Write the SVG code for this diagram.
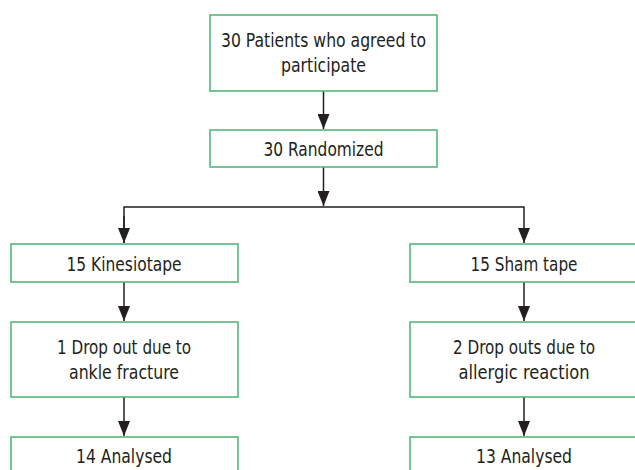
<svg xmlns="http://www.w3.org/2000/svg" width="635" height="470" viewBox="0 0 635 470">
<defs>
<style>
.box{fill:#fff;stroke:#47b275;stroke-width:1.5}
.t{font-family:"Liberation Sans Narrow","DejaVu Sans Condensed","Liberation Sans",sans-serif;font-size:20px;fill:#231f20;text-anchor:middle}
.c{fill:none;stroke:#231f20;stroke-width:1.5}
</style>
<marker id="ah" viewBox="0 0 15 12" refX="15" refY="6" markerWidth="15" markerHeight="12" markerUnits="userSpaceOnUse" orient="auto">
<path d="M0,0 L15,6 L0,12 z" fill="#231f20"/>
</marker>
</defs>
<rect width="635" height="470" fill="#fff"/>
<g id="connectors">
<line class="c" x1="323.5" y1="91" x2="323.5" y2="129" marker-end="url(#ah)"/>
<line class="c" x1="323.5" y1="167" x2="323.5" y2="206" marker-end="url(#ah)"/>
<polyline class="c" points="124,243 124,207 524,207 524,243" marker-end="url(#ah)"/>
<polyline class="c" points="124,216 124,243" marker-end="url(#ah)"/>
<line class="c" x1="124" y1="282" x2="124" y2="321" marker-end="url(#ah)"/>
<line class="c" x1="524" y1="282" x2="524" y2="321" marker-end="url(#ah)"/>
<line class="c" x1="124" y1="397" x2="124" y2="436" marker-end="url(#ah)"/>
<line class="c" x1="524" y1="397" x2="524" y2="436" marker-end="url(#ah)"/>
</g>
<g id="n1"><rect class="box" x="210" y="15" width="227" height="76"/><text class="t" x="323.5" y="47" textLength="205" lengthAdjust="spacingAndGlyphs">30 Patients who agreed to</text><text class="t" x="323.5" y="72" textLength="85" lengthAdjust="spacingAndGlyphs">participate</text></g>
<g id="n2"><rect class="box" x="210" y="130" width="227" height="37"/><text class="t" x="323.5" y="156" textLength="120" lengthAdjust="spacingAndGlyphs">30 Randomized</text></g>
<g id="n3"><rect class="box" x="11" y="244" width="227" height="38"/><text class="t" x="124" y="271" textLength="115" lengthAdjust="spacingAndGlyphs">15 Kinesiotape</text></g>
<g id="n4"><rect class="box" x="410" y="244" width="228" height="38"/><text class="t" x="524" y="271" textLength="107" lengthAdjust="spacingAndGlyphs">15 Sham tape</text></g>
<g id="n5"><rect class="box" x="11" y="322" width="227" height="75"/><text class="t" x="124" y="354" textLength="134" lengthAdjust="spacingAndGlyphs">1 Drop out due to</text><text class="t" x="124" y="379" textLength="110" lengthAdjust="spacingAndGlyphs">ankle fracture</text></g>
<g id="n6"><rect class="box" x="410" y="322" width="228" height="75"/><text class="t" x="524" y="354" textLength="142" lengthAdjust="spacingAndGlyphs">2 Drop outs due to</text><text class="t" x="524" y="379" textLength="131" lengthAdjust="spacingAndGlyphs">allergic reaction</text></g>
<g id="n7"><rect class="box" x="11" y="437" width="227" height="40"/><text class="t" x="124" y="463" textLength="96" lengthAdjust="spacingAndGlyphs">14 Analysed</text></g>
<g id="n8"><rect class="box" x="410" y="437" width="228" height="40"/><text class="t" x="524" y="463" textLength="96" lengthAdjust="spacingAndGlyphs">13 Analysed</text></g>
</svg>
